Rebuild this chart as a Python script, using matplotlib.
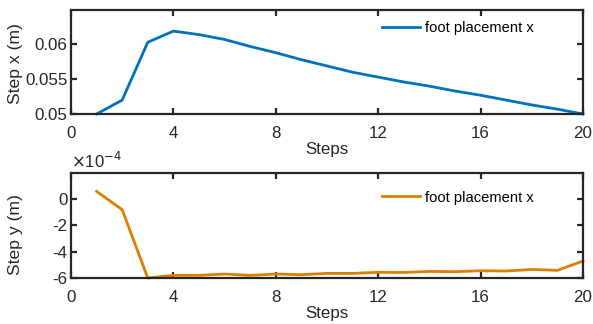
import matplotlib
matplotlib.use("Agg")
import matplotlib.pyplot as plt

plt.rcParams['font.family'] = ['Liberation Sans', 'DejaVu Sans']

steps = list(range(1, 21))
step_x = [0.0500, 0.0520, 0.0603, 0.0619, 0.0614, 0.0607, 0.0597, 0.0588, 0.0578,
          0.0569, 0.0560, 0.0553, 0.0546, 0.0540, 0.0533, 0.0527, 0.0520, 0.0513,
          0.0507, 0.0500]
# step y in units of 1e-4 m
step_y = [0.58, -0.81, -6.0, -5.8, -5.8, -5.7, -5.8, -5.7, -5.75, -5.65, -5.65,
          -5.57, -5.58, -5.5, -5.52, -5.45, -5.47, -5.35, -5.42, -4.71]
legend_label = "foot placement x"

dark = '#262626'
blue = '#0072BD'
orange = '#E07C00'


def style_axes(ax):
    for s in ax.spines.values():
        s.set_linewidth(1.6)
        s.set_color(dark)
    ax.tick_params(direction='in', length=4, width=1.6, top=True, right=True,
                   labelsize=12.2, colors=dark)
    ax.tick_params(axis='x', pad=8.5)
    ax.tick_params(axis='y', pad=2.5)
    ax.set_xlim(0, 20)
    ax.set_xticks([0, 4, 8, 12, 16, 20])
    ax.set_xlabel('Steps', fontsize=12.2, color=dark, labelpad=1)


fig = plt.figure(figsize=(5.93, 3.24), dpi=100)
ax1 = fig.add_axes([0.1197, 0.6481, 0.8634, 0.3225])
ax2 = fig.add_axes([0.1197, 0.142, 0.8634, 0.325])

ax1.plot(steps, step_x, color=blue, lw=2.0, label=legend_label, clip_on=False)
style_axes(ax1)
ax1.set_ylim(0.05, 0.065)
ax1.set_yticks([0.05, 0.055, 0.06])
ax1.set_yticklabels(['0.05', '0.055', '0.06'])
ax1.set_ylabel('Step x (m)', fontsize=12.6, color=dark)
ax1.yaxis.set_label_coords(-0.094, 0.48)
ax1.legend(loc='center left', bbox_to_anchor=(0.607, 0.823), frameon=False,
           fontsize=10.6, handlelength=2.6, handletextpad=0.35, borderpad=0,
           borderaxespad=0)

ax2.plot(steps, step_y, color=orange, lw=2.0, label=legend_label, clip_on=False)
style_axes(ax2)
ax2.set_ylim(-6, 2)
ax2.set_yticks([-6, -4, -2, 0])
ax2.set_yticklabels(['-6', '-4', '-2', '0'])
ax2.set_ylabel('Step y (m)', fontsize=12.6, color=dark)
ax2.yaxis.set_label_coords(-0.094, 0.41)
ax2.text(0.0, 1.02, r'$\times$10$^{-4}$', transform=ax2.transAxes, fontsize=12,
         color=dark, ha='left', va='bottom')
ax2.legend(loc='center left', bbox_to_anchor=(0.607, 0.763), frameon=False,
           fontsize=10.6, handlelength=2.6, handletextpad=0.35, borderpad=0,
           borderaxespad=0)

fig.savefig('out.png', dpi=100)
